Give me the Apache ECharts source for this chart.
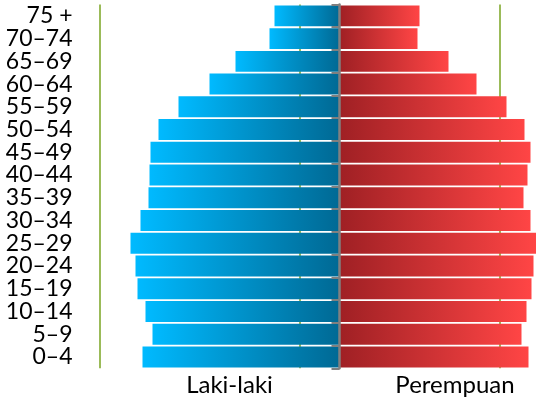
<!DOCTYPE html>
<html>
<head>
<meta charset="utf-8">
<script src="https://cdn.jsdelivr.net/npm/echarts@6/dist/echarts.min.js"></script>
<style>
  html, body { margin: 0; padding: 0; background: #fff; }
  #chart { width: 536px; height: 399px; }
</style>
</head>
<body>
<div id="chart"></div>
<script>
// Age groups, bottom to top
const kelompokUmur = ['0–4', '5–9', '10–14', '15–19', '20–24', '25–29', '30–34', '35–39',
  '40–44', '45–49', '50–54', '55–59', '60–64', '65–69', '70–74', '75 +'];

// Male population per age group (drawn to the left)
const lakiLaki = [197, 187, 194, 202, 204, 209, 199, 191, 190, 189, 181, 161, 130, 104, 70, 65];

// Female population per age group (drawn to the right)
const perempuan = [189, 182, 187, 192, 194, 197, 191, 184, 188, 191, 185, 167, 137, 109, 78, 80];

// Side captions under the bars
const judulSisi = ['Laki-laki', 'Perempuan'];

const FONT = 'Lato, "Open Sans", sans-serif';

const chart = echarts.init(document.getElementById('chart'), null, { renderer: 'canvas' });

const gradBlue = new echarts.graphic.LinearGradient(0, 0, 1, 0, [
  { offset: 0, color: '#00BAFF' },
  { offset: 1, color: '#006994' }
]);
const gradRed = new echarts.graphic.LinearGradient(0, 0, 1, 0, [
  { offset: 0, color: '#9F2024' },
  { offset: 1, color: '#FF4545' }
]);

chart.setOption({
  animation: false,
  backgroundColor: '#ffffff',
  grid: { left: 99.5, top: 4.5, right: 0, bottom: 30.7, containLabel: false },
  xAxis: {
    type: 'value',
    min: -240,
    max: 196.5,
    interval: 200,
    axisLine: { show: false },
    axisTick: { show: false },
    axisLabel: { show: false },
    splitLine: { show: true, showMaxLine: false, lineStyle: { color: '#9BBB59', width: 2 } }
  },
  yAxis: [
    {
      type: 'category',
      data: kelompokUmur,
      z: 10,
      axisLine: { show: true, onZero: true, lineStyle: { color: '#808080', width: 2.5 } },
      axisTick: { show: true, length: 8, lineStyle: { color: '#808080', width: 2 } },
      axisLabel: { show: false },
      splitLine: { show: false }
    },
    {
      type: 'category',
      data: kelompokUmur,
      position: 'left',
      axisLine: { show: false, onZero: false },
      axisTick: { show: false },
      axisLabel: {
        show: true,
        interval: 0,
        margin: 27,
        fontFamily: FONT,
        fontSize: 23,
        color: '#000000'
      },
      splitLine: { show: false }
    }
  ],
  series: [
    {
      name: judulSisi[0],
      type: 'bar',
      stack: 'piramida',
      yAxisIndex: 0,
      barWidth: '92%',
      data: lakiLaki.map(v => -v),
      itemStyle: { color: gradBlue }
    },
    {
      name: judulSisi[1],
      type: 'bar',
      stack: 'piramida',
      yAxisIndex: 0,
      barWidth: '92%',
      data: perempuan,
      itemStyle: { color: gradRed }
    }
  ],
  graphic: [
    {
      type: 'text',
      x: 229.5, y: 385,
      style: { text: judulSisi[0], font: '24px ' + FONT, fill: '#000', align: 'center', verticalAlign: 'middle' }
    },
    {
      type: 'text',
      x: 455, y: 385,
      style: { text: judulSisi[1], font: '24px ' + FONT, fill: '#000', align: 'center', verticalAlign: 'middle' }
    }
  ]
});
</script>
</body>
</html>
